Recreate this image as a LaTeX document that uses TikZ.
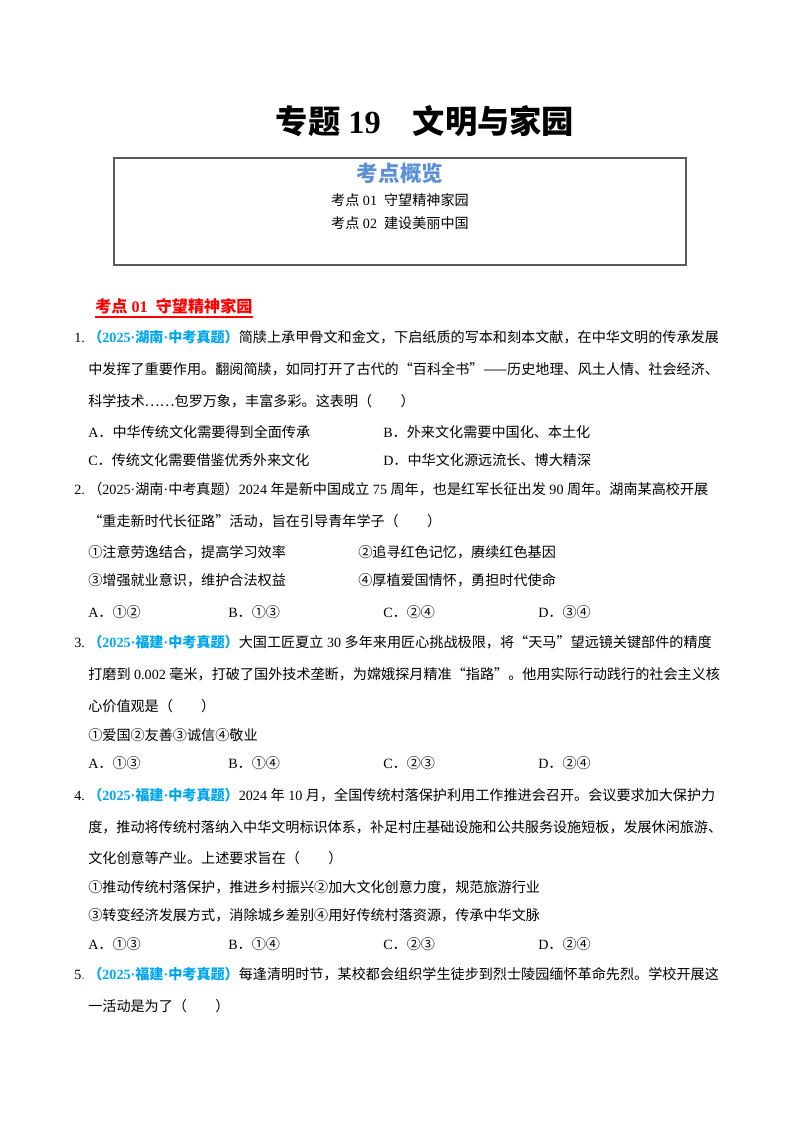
\documentclass[tikz,border=0pt]{standalone}
\usepackage{fontspec}
\usepackage{xcolor}
\setmainfont{Liberation Serif}
\newfontfamily\cjk{Noto Sans CJK SC}
\newfontfamily\tnr{Liberation Serif}
\XeTeXlinebreaklocale "zh"
\XeTeXlinebreakskip=0pt plus 2pt minus 1pt

\definecolor{source}{HTML}{00A6ED}
\definecolor{apercubleu}{HTML}{5B8FD6}
\definecolor{rouge}{HTML}{FF0000}
\definecolor{cadre}{HTML}{5A5A5A}

\newcommand{\jus}{\parindent=0pt\parfillskip=0pt\tolerance=9999\relax}
\newcommand{\pt}{{\tnr ·}}
\newcommand{\ks}{\hspace{0.25em}}
\newcommand{\src}[1]{{\color{source}\bfseries （{\tnr 2025}\pt #1\pt 中考真题）}}
\newcommand{\vide}{（\hspace{2em}）}

\begin{document}
\begin{tikzpicture}[x=0.74375pt, y=-0.74375pt]

\tikzset{
    ligne/.style = {
    anchor=base west,
    inner sep=0pt,
    font=\cjk\fontsize{10.5}{13}\selectfont
    }
}

\tikzstyle{pleine}=[ligne, text width=471.5pt, align=justify]
\tikzstyle{numero}=[ligne, font=\tnr\fontsize{10.5}{13}\selectfont]

\useasboundingbox (0,0) rectangle (800,1132);

% titre
\node (titre) [inner sep=0pt, font=\cjk\bfseries\fontsize{24}{28}\selectfont] at (425,121)
    {专题\ks{\tnr 19}\hspace{1em}文明与家园};

\node (apercu) [draw=cadre, line width=0.8pt, minimum width=425.4pt, minimum height=79.6pt] at (400,211.5) {};
\node (apercu-t) [inner sep=0pt, text=apercubleu, font=\cjk\bfseries\fontsize{16}{18}\selectfont] at (400,173) {考点概览};
\node (apercu-1) [inner sep=0pt, font=\cjk\fontsize{10.5}{13}\selectfont] at (400,200) {考点\ks{\tnr 01\ \ }守望精神家园};
\node (apercu-2) [inner sep=0pt, font=\cjk\fontsize{10.5}{13}\selectfont] at (400,223) {考点\ks{\tnr 02\ \ }建设美丽中国};

% partie 01
\node (k01) [ligne, text=rouge, font=\cjk\bfseries\fontsize{12}{14}\selectfont] at (95,312) {考点\ks{\tnr 01\ \ }守望精神家园};
\draw [rouge, line width=1.2pt] ([yshift=-2.5pt]k01.south west) -- ([yshift=-2.5pt]k01.south east);

% question 1
\node (n1) [numero] at (74,342) {1.};
\node (q1-a) [pleine] at (88,342) {\jus\src{湖南}简牍上承甲骨文和金文，下启纸质的写本和刻本文献，在中华文明的传承发展};
\node (q1-b) [pleine] at (88,374) {\jus 中发挥了重要作用。翻阅简牍，如同打开了古代的“百科全书”——历史地理、风土人情、社会经济、};
\node (q1-c) [ligne] at (88,406) {科学技术……包罗万象，丰富多彩。这表明\vide};
\node (q1-A) [ligne] at (88,437) {{\tnr A}．中华传统文化需要得到全面传承};
\node (q1-B) [ligne] at (383,437) {{\tnr B}．外来文化需要中国化、本土化};
\node (q1-C) [ligne] at (88,465) {{\tnr C}．传统文化需要借鉴优秀外来文化};
\node (q1-D) [ligne] at (383,465) {{\tnr D}．中华文化源远流长、博大精深};

% question 2
\node (n2) [numero] at (74,494) {2.};
\node (q2-a) [pleine] at (88,494) {\jus （{\tnr 2025}\pt 湖南\pt 中考真题）{\tnr 2024}\ks 年是新中国成立\ks{\tnr 75}\ks 周年，也是红军长征出发\ks{\tnr 90}\ks 周年。湖南某高校开展};
\node (q2-b) [ligne] at (88,526) {“重走新时代长征路”活动，旨在引导青年学子\vide};
\node (q2-1) [ligne] at (88,557) {①注意劳逸结合，提高学习效率};
\node (q2-2) [ligne] at (358,557) {②追寻红色记忆，赓续红色基因};
\node (q2-3) [ligne] at (88,585) {③增强就业意识，维护合法权益};
\node (q2-4) [ligne] at (358,585) {④厚植爱国情怀，勇担时代使命};
\node (q2-A) [ligne] at (88,617) {{\tnr A}．①②};
\node (q2-B) [ligne] at (228,617) {{\tnr B}．①③};
\node (q2-C) [ligne] at (383,617) {{\tnr C}．②④};
\node (q2-D) [ligne] at (538,617) {{\tnr D}．③④};

% question 3
\node (n3) [numero] at (74,647) {3.};
\node (q3-a) [pleine] at (88,647) {\jus\src{福建}大国工匠夏立\ks{\tnr 30}\ks 多年来用匠心挑战极限，将“天马”望远镜关键部件的精度};
\node (q3-b) [pleine] at (88,679) {\jus 打磨到\ks{\tnr 0.002}\ks 毫米，打破了国外技术垄断，为嫦娥探月精准“指路”。他用实际行动践行的社会主义核};
\node (q3-c) [ligne] at (88,711) {心价值观是\vide};
\node (q3-1) [ligne] at (88,740) {①爱国②友善③诚信④敬业};
\node (q3-A) [ligne] at (88,768) {{\tnr A}．①③};
\node (q3-B) [ligne] at (228,768) {{\tnr B}．①④};
\node (q3-C) [ligne] at (383,768) {{\tnr C}．②③};
\node (q3-D) [ligne] at (538,768) {{\tnr D}．②④};

% question 4
\node (n4) [numero] at (74,800) {4.};
\node (q4-a) [pleine] at (88,800) {\jus\src{福建}{\tnr 2024}\ks 年\ks{\tnr 10}\ks 月，全国传统村落保护利用工作推进会召开。会议要求加大保护力};
\node (q4-b) [pleine] at (88,832) {\jus 度，推动将传统村落纳入中华文明标识体系，补足村庄基础设施和公共服务设施短板，发展休闲旅游、};
\node (q4-c) [ligne] at (88,863) {文化创意等产业。上述要求旨在\vide};
\node (q4-1) [ligne] at (88,892) {①推动传统村落保护，推进乡村振兴②加大文化创意力度，规范旅游行业};
\node (q4-3) [ligne] at (88,920) {③转变经济发展方式，消除城乡差别④用好传统村落资源，传承中华文脉};
\node (q4-A) [ligne] at (88,949) {{\tnr A}．①③};
\node (q4-B) [ligne] at (228,949) {{\tnr B}．①④};
\node (q4-C) [ligne] at (383,949) {{\tnr C}．②③};
\node (q4-D) [ligne] at (538,949) {{\tnr D}．②④};

% question 5
\node (n5) [numero] at (74,979) {5{\color{source}.}};
\node (q5-a) [pleine] at (88,979) {\jus\src{福建}每逢清明时节，某校都会组织学生徒步到烈士陵园缅怀革命先烈。学校开展这};
\node (q5-b) [ligne] at (88,1011) {一活动是为了\vide};

\end{tikzpicture}
\end{document}
